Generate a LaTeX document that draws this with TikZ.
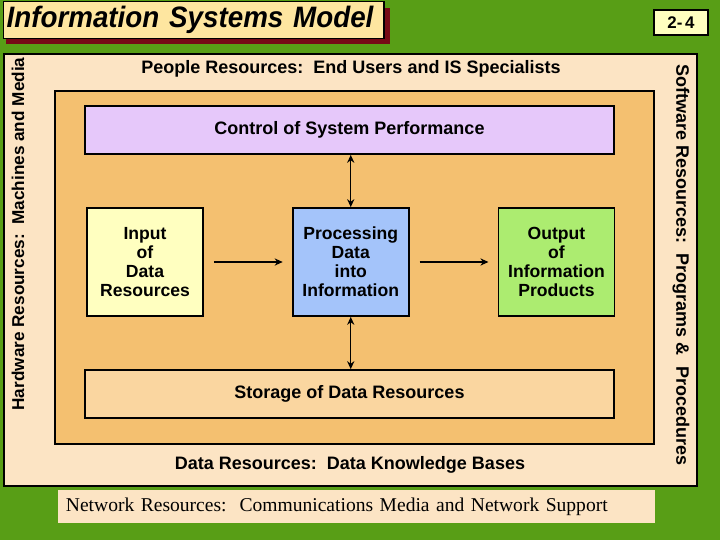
\documentclass[tikz,border=0pt]{standalone}
\usepackage{fontspec}
\setmainfont{Liberation Serif}
\setsansfont{Liberation Sans}
\newfontfamily\titlefont[FakeStretch=0.94]{Liberation Sans}
\usetikzlibrary{arrows.meta, positioning}
\definecolor{bggreen}{RGB}{88,158,22}
\definecolor{peach}{RGB}{252,228,196}
\definecolor{orangebox}{RGB}{244,192,112}
\definecolor{lavender}{RGB}{230,200,250}
\definecolor{storagec}{RGB}{250,214,160}
\definecolor{inputc}{RGB}{255,255,192}
\definecolor{procc}{RGB}{164,196,250}
\definecolor{outputc}{RGB}{172,236,112}
\definecolor{titlec}{RGB}{254,230,160}
\definecolor{shadowc}{RGB}{118,10,22}
\tikzset{
  frame/.style={draw, line width=1.2pt, fill=#1},
  band/.style={frame=#1, minimum width=13.225cm, minimum height=1.2cm,
    font=\sffamily\bfseries\fontsize{12.8}{14}\selectfont},
  sq/.style={frame=#1, minimum width=2.9cm, minimum height=2.7cm, align=center,
    font=\sffamily\bfseries\fontsize{12.5}{13.5}\selectfont},
  lbl/.style={font=\sffamily\bfseries\fontsize{12.8}{14}\selectfont},
  arr/.style={-{Stealth[length=2mm, width=1.8mm]}, line width=1pt},
  darr/.style={{Stealth[length=2mm, width=1.8mm]}-{Stealth[length=2mm, width=1.8mm]}, line width=1pt},
}
\begin{document}
\begin{tikzpicture}[x=0.025cm, y=-0.025cm, node distance=2.2cm]
    \fill[bggreen] (0,0) rectangle (720,540);
    \useasboundingbox (0,0) rectangle (720,540);
    % title
    \fill[shadowc] (6,8) rectangle (390,44);
    \node[frame=titlec, line width=1pt, anchor=north west, minimum width=9.5cm, minimum height=0.875cm,
      text width=9.35cm, inner xsep=0.075cm, align=left,
      font=\titlefont\bfseries\itshape\fontsize{21}{23}\selectfont] (title) at (3,1) {Information Systems Model};
    \node[frame=inputc, line width=1pt, minimum width=1.35cm, minimum height=0.62cm,
      font=\sffamily\bfseries\fontsize{12}{14}\selectfont] (tag) at (681,22.5) {2-\,4};
    % resource frames
    \node[frame=peach, anchor=north west, minimum width=17.325cm, minimum height=10.8cm] (outer) at (3,53) {};
    \node[frame=orangebox, anchor=north west, minimum width=14.975cm, minimum height=8.825cm] (inner) at (54,90) {};
    \node[lbl] (people) at (351,69) {People Resources:\ \ End Users and IS Specialists};
    \node[lbl] (data) at (350,465) {Data Resources:\ \ Data Knowledge Bases};
    \node[lbl, font=\sffamily\bfseries\fontsize{12.2}{14}\selectfont, rotate=90] (hw) at (18,234)
      {Hardware Resources:\ \ Machines and Media};
    \node[lbl, rotate=-90] (sw) at (681,265) {Software Resources:\ \ Programs \&\ \ Procedures};
    % activities
    \node[band=lavender] (ctrl) at (349.5,130) {Control of System Performance};
    \node[band=storagec] (stor) at (349.5,394) {Storage of Data Resources};
    \node[sq=inputc] (in) at (145,262) {Input\\of\\Data\\Resources};
    \node[sq=procc, right=of in] (proc) {Processing\\Data\\into\\Information};
    \node[sq=outputc, right=of proc] (out) {Output\\of\\Information\\Products};
    \draw[arr, shorten <=2.5mm, shorten >=2.3mm] (in) -- (proc);
    \draw[arr, shorten <=2.5mm, shorten >=2.3mm] (proc) -- (out);
    \draw[darr] (ctrl.south -| proc.north) -- (proc.north);
    \draw[darr] (proc.south) -- (stor.north -| proc.south);
    % network
    \node[fill=peach, minimum width=14.925cm, minimum height=0.825cm, inner xsep=0.2cm,
      text width=14.525cm, align=left, font=\fontsize{13.9}{15}\selectfont] (net) at (356.5,506.5)
      {Network Resources:\ \ Communications Media and Network Support};
\end{tikzpicture}
\end{document}
